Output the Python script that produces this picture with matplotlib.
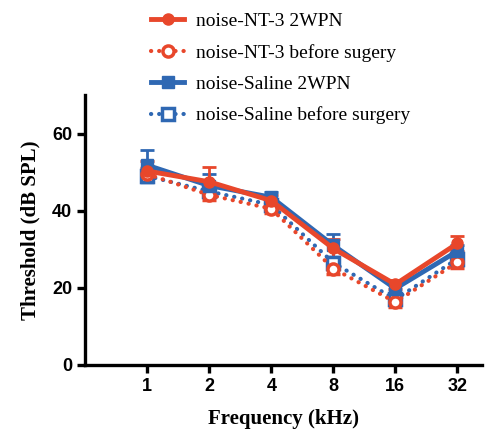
import matplotlib.pyplot as plt
from matplotlib.lines import Line2D

freqs = ["1", "2", "4", "8", "16", "32"]

nt3_2wpn = [50.3, 47.5, 42.6, 30.2, 20.9, 31.5]
nt3_2wpn_err = [2.5, 3.8, 1.5, 2.5, 1.2, 2.0]
nt3_before = [49.5, 44.1, 40.5, 25.0, 16.3, 26.6]
nt3_before_err = [1.5, 1.2, 1.2, 1.5, 1.2, 1.5]
sal_2wpn = [51.8, 46.5, 43.5, 31.0, 19.8, 29.5]
sal_2wpn_err = [4.0, 3.0, 1.3, 3.0, 1.5, 1.5]
sal_before = [49.0, 45.0, 41.5, 26.5, 17.0, 27.5]
sal_before_err = [1.5, 1.2, 1.2, 1.5, 1.2, 1.5]

labels = ["noise-NT-3 2WPN", "noise-NT-3 before sugery",
          "noise-Saline 2WPN", "noise-Saline before surgery"]

red = "#e8472b"
blue = "#2f68b3"

x = list(range(len(freqs)))

fig = plt.figure(figsize=(4.87, 4.36), dpi=100)
ax = fig.add_axes([0.175, 0.163, 0.815, 0.619])

dot = (0, (0.05, 1.9))
common = dict(markersize=8, capsize=5, elinewidth=2, capthick=2)

ax.errorbar(x, sal_before, yerr=sal_before_err, color=blue, lw=3, ls=dot,
            dash_capstyle="round", marker="s", mfc="white", mew=2.5, **common)
ax.errorbar(x, nt3_before, yerr=nt3_before_err, color=red, lw=3, ls=dot,
            dash_capstyle="round", marker="o", mfc="white", mew=2.5, **common)
ax.errorbar(x, sal_2wpn, yerr=sal_2wpn_err, color=blue, lw=3.5, marker="s",
            **common)
ax.errorbar(x, nt3_2wpn, yerr=nt3_2wpn_err, color=red, lw=3.5, marker="o",
            **common)

ax.set_xlim(-1, 5.4)
ax.set_ylim(0, 70)
ax.set_xticks(x)
ax.set_xticklabels(freqs)
ax.set_yticks([0, 20, 40, 60])

for s in ["top", "right"]:
    ax.spines[s].set_visible(False)
for s in ["left", "bottom"]:
    ax.spines[s].set_linewidth(2.4)
ax.tick_params(width=2.4, length=6, labelsize=13)
for lab in ax.get_xticklabels() + ax.get_yticklabels():
    lab.set_fontfamily("Liberation Sans")
    lab.set_fontweight("bold")

ax.set_xlabel("Frequency (kHz)", family="Liberation Serif", weight="bold",
              fontsize=15, labelpad=10)
ax.set_ylabel("Threshold (dB SPL)", family="Liberation Serif", weight="bold",
              fontsize=15, labelpad=8)

# legend handles without error bars
handles = [
    Line2D([], [], color=red, lw=3.5, marker="o", markersize=8),
    Line2D([], [], color=red, lw=3, ls=dot, dash_capstyle="round",
           marker="o", mfc="white", mew=2.5, markersize=8),
    Line2D([], [], color=blue, lw=3.5, marker="s", markersize=8),
    Line2D([], [], color=blue, lw=3, ls=dot, dash_capstyle="round",
           marker="s", mfc="white", mew=2.5, markersize=8),
]
fig.legend(handles, labels, loc="upper left", bbox_to_anchor=(0.285, 1.0),
           frameon=False, prop={"family": "Liberation Serif", "size": 14},
           handlelength=1.7, labelspacing=0.7, handletextpad=0.6,
           borderpad=0.15)

fig.savefig("out.png", dpi=100)
